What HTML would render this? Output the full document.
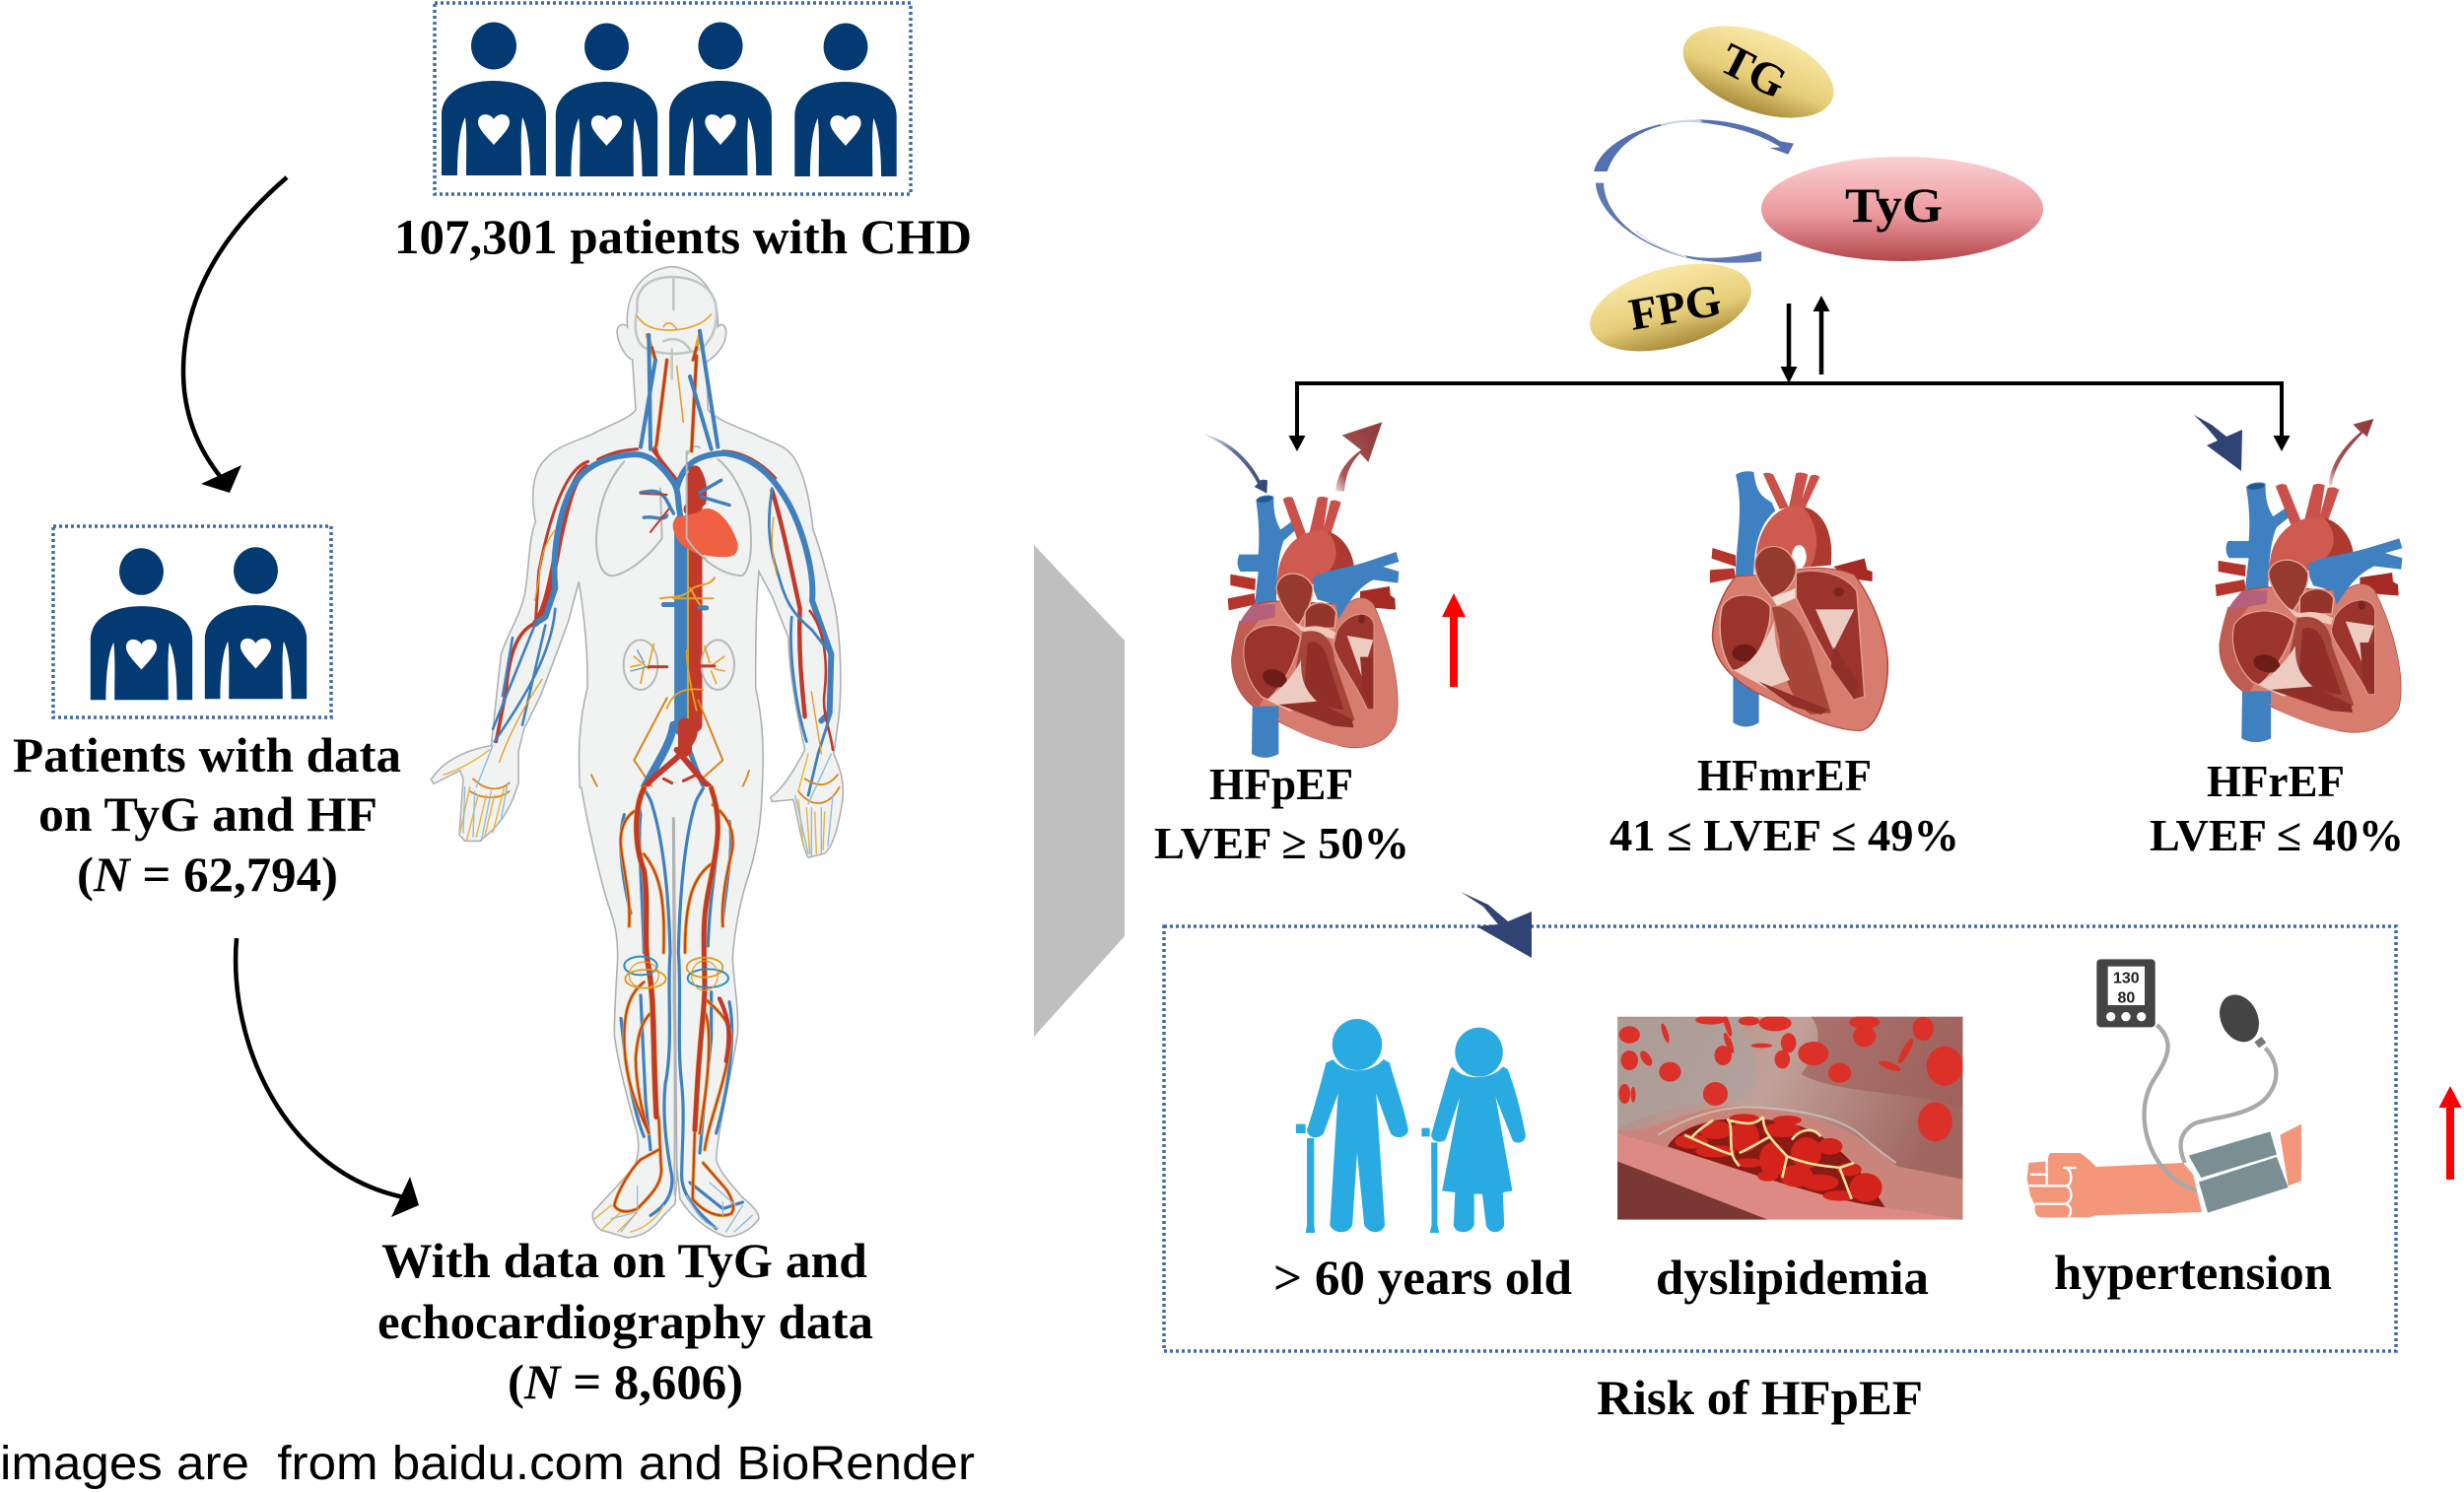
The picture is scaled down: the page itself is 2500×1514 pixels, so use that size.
<!DOCTYPE html>
<html lang="en"><head><meta charset="utf-8"><title>TyG and HF diagram</title>
<style>
html,body{margin:0;padding:0;background:#fff}
svg{display:block}
.t{font-family:"Liberation Serif",serif;font-weight:bold;fill:#000}
.s{font-family:"Liberation Sans",sans-serif;fill:#000;white-space:pre}
.v,.v path,.v ellipse{fill:none;vector-effect:non-scaling-stroke;stroke-linecap:round;stroke-linejoin:round}
.ns{vector-effect:non-scaling-stroke}
</style></head><body>
<svg xmlns="http://www.w3.org/2000/svg" width="2500" height="1514" viewBox="0 0 2500 1514">
<defs>
<linearGradient id="gold" x1="0" y1="0" x2="0" y2="1"><stop offset="0" stop-color="#f9e8a6"/><stop offset=".6" stop-color="#e6cd78"/><stop offset="1" stop-color="#a98c3a"/></linearGradient>
<linearGradient id="pink" x1="0" y1="0" x2="0" y2="1"><stop offset="0" stop-color="#fbd0d2"/><stop offset=".55" stop-color="#ec9a9e"/><stop offset="1" stop-color="#b3474c"/></linearGradient>
<linearGradient id="fadeN" x1="0" y1="0" x2="1" y2="1"><stop offset="0" stop-color="#e8ebf2"/><stop offset=".4" stop-color="#5d6f9a"/><stop offset="1" stop-color="#2f4374"/></linearGradient>
<linearGradient id="fadeR" x1="0" y1="1" x2="1" y2="0"><stop offset="0" stop-color="#f1dede"/><stop offset=".2" stop-color="#a85656"/><stop offset="1" stop-color="#8f3838"/></linearGradient>
<linearGradient id="picbg" x1="0" y1="0" x2="1" y2=".3"><stop offset="0" stop-color="#b08a82"/><stop offset=".5" stop-color="#c0a098"/><stop offset="1" stop-color="#a06660"/></linearGradient>
<clipPath id="picclip"><rect x="745" y="245" width="723" height="618"/></clipPath>

<g id="person">
<ellipse cx="0" cy="47.5" rx="23" ry="24" fill="#033a72"/>
<path d="M-53,179V118C-53,95-30,83 0,83C30,83 53,95 53,118V179H37C37,150 34,130 29,120C27,135 28,155 28,179H-28C-28,155-27,135-29,120C-34,130-37,150-37,179Z" fill="#033a72"/>
<path d="M0,148C-6,141-16,132-16,125C-16,115-4,115 0,122C4,115 16,115 16,125C16,132 6,141 0,148Z" fill="#fff"/>
</g>

<g id="heartA">
<path d="M283,322C295,305 330,305 337,312C335,360 345,390 358,412L395,385L408,410L368,445C350,490 345,560 345,645L280,635L290,540H235Q220,515 232,488H290C295,430 290,370 283,322Z" fill="#3f80c0"/>
<ellipse cx="310" cy="320" rx="24" ry="9" fill="#1f5a94" transform="rotate(-10 310 320)"/>
<path d="M205,548L282,562L280,597L205,582Z M197,622L278,606L282,640L200,658Z" fill="#b5352c"/>
<path d="M365,320Q380,308 395,315L437,430L410,445Z M470,315Q485,308 502,316L487,425L445,425Z M510,325Q525,318 542,330L510,428L485,425Z" fill="#c9514a"/>
<path d="M352,530C370,450 430,410 490,415C550,425 585,490 582,545L450,580L340,610Z" fill="#cf5a50"/>
<path d="M500,417C550,430 585,490 582,545L480,560C530,530 545,470 500,417Z" fill="#ac3a30"/>
<path d="M600,600L690,585L692,612L706,622L708,656L640,650L600,635Z" fill="#a52a24"/>
<path d="M275,640C250,670 220,720 210,800C205,870 240,930 290,960C340,990 420,1040 540,1070C600,1085 680,1070 708,1000C728,900 690,750 640,640C620,615 590,615 560,640L340,630Z" fill="#d77d70" stroke="#b5483e" stroke-width="4"/>
<path d="M272,950H352V1095Q310,1118 270,1095Z" fill="#3f80c0"/>
<path d="M345,990C420,1040 500,1065 540,1070C600,1085 680,1070 708,1000C728,900 690,750 640,640C620,615 590,615 560,640L600,960Z" fill="#d77d70"/>
<path d="M232,690C222,730 208,770 210,820C210,870 235,925 290,955L305,930C255,880 235,810 250,745L290,690Z" fill="#bf5d54"/>
<path d="M275,640C255,660 240,680 232,700L340,680L342,640Z" fill="#b5607a"/>
<path d="M250,745C280,690 380,690 418,740C405,810 370,880 320,930L300,920C260,880 235,810 250,745Z" fill="#9a342c" stroke="#e8a898" stroke-width="3"/>
<ellipse cx="340" cy="865" rx="38" ry="26" fill="#6e1c18" transform="rotate(20 340 865)"/>
<path d="M345,590C350,535 430,530 455,585C460,620 435,670 412,705C380,680 350,630 345,590Z" fill="#963a30" stroke="#e8a898" stroke-width="4"/>
<path d="M455,560C490,535 560,530 620,510L710,480L718,510L670,525L718,540L715,575L640,565C590,590 560,640 535,685L525,640L470,625L460,600Z" fill="#3f80c0"/>
<path d="M432,665C450,625 510,625 527,665L522,712L432,712Z" fill="#94352b" stroke="#e8a898" stroke-width="4"/>
<path d="M395,690L430,710C470,700 500,710 525,725L520,745L420,720Z" fill="#efc8b8"/>
<path d="M425,725C490,705 520,760 522,810L583,990C560,1020 480,1000 420,965L405,830Z" fill="#a6463b"/>
<path d="M440,760C470,740 500,780 505,820L550,960C510,960 470,940 430,900Z" fill="#8f2f28"/>
<path d="M530,720C560,665 630,650 642,700L642,960L622,960C590,880 520,800 520,760Z" fill="#9a342c" stroke="#e39a8d" stroke-width="3"/>
<ellipse cx="605" cy="685" rx="10" ry="14" fill="#7a2420"/>
<path d="M315,930C360,900 400,850 420,810C420,870 430,900 478,945L385,965Z" fill="#eccbc0"/>
<path d="M352,945L520,1010L580,1015L575,990L470,935Z" fill="#8f2f28"/>
<path d="M560,735L640,748L605,860Z" fill="#eccbc0"/>
<path d="M600,800L640,800L640,960L610,920Z" fill="#8f2f28"/>
</g>
</defs>

<rect width="2500" height="1514" fill="#fff"/>

<!-- top box -->
<rect x="441" y="3" width="483" height="194" fill="none" stroke="#3f6aa8" stroke-width="3.5" stroke-dasharray="3 3"/>
<use href="#person" x="501" y="-1"/>
<use href="#person" transform="translate(615.5,0) scale(.975,1)"/>
<use href="#person" transform="translate(731,-1) scale(.98,1)"/>
<use href="#person" transform="translate(858,0) scale(.975,1)"/>
<text class="t" x="400" y="257" font-size="50" textLength="586" lengthAdjust="spacingAndGlyphs">107,301 patients with CHD</text>

<!-- second box -->
<rect x="54" y="534" width="282" height="194" fill="none" stroke="#3f6aa8" stroke-width="3.5" stroke-dasharray="3 3"/>
<use href="#person" transform="translate(143.5,533) scale(.975,.99)"/>
<use href="#person" transform="translate(259.5,532) scale(.975,.99)"/>
<text class="t" x="13" y="783" font-size="50" textLength="394" lengthAdjust="spacingAndGlyphs">Patients with data</text>
<text class="t" x="39" y="843" font-size="50" textLength="344" lengthAdjust="spacingAndGlyphs">on TyG and HF</text>
<text class="t" x="78" y="904" font-size="50" textLength="265" lengthAdjust="spacingAndGlyphs">(<tspan font-style="italic">N</tspan> = 62,794)</text>

<!-- curved arrows -->
<path d="M291,180C227,235 186,300 186,377C186,420 201,455 223,483" fill="none" stroke="#000" stroke-width="4.5"/>
<path d="M245,472L204,491L233,500Z" fill="#000"/>
<path d="M240,952C231,1060 290,1190 410,1215" fill="none" stroke="#000" stroke-width="4.5"/>
<path d="M416,1194L425,1223L397,1235Z" fill="#000"/>

<!-- body upper -->
<g transform="translate(420,260) scale(.33333,.42088)">
<path class="ns" d="M505,1283C500,1200 500,1130 528,1040C530,950 515,850 502,785L470,880L440,945L385,1060L335,1140L318,1195L318,1270C300,1320 270,1370 200,1410L155,1410L138,1395L150,1260L140,1240L60,1272L52,1262C90,1215 160,1190 235,1180L265,960C290,900 330,860 340,800C350,750 350,680 370,640C355,580 360,520 400,490C430,460 480,450 540,430C600,405 660,390 675,370L665,250C640,240 620,210 618,180C620,165 640,160 650,170C640,90 700,30 785,25C870,30 930,90 925,170C935,160 950,165 950,185C950,215 920,240 890,255L895,370C920,395 980,410 1040,430C1080,450 1130,450 1160,490C1190,530 1205,590 1215,660C1240,710 1260,780 1280,840C1300,920 1305,1050 1290,1130L1278,1200C1300,1240 1310,1270 1305,1310C1295,1360 1280,1420 1250,1440L1200,1450C1180,1420 1170,1360 1155,1310L1090,1315L1085,1305C1130,1280 1170,1220 1190,1190C1170,1120 1140,1000 1140,920L1090,820L1050,760C1040,850 1040,960 1040,1040C1065,1130 1065,1200 1060,1283" fill="#f1f2f2" stroke="#aeb1b3" stroke-width="1.6"/>
<g class="v">
<path d="M680,130C670,70 730,50 785,50C860,50 920,80 920,130C925,170 905,200 880,220C830,240 750,240 700,220C670,200 670,160 680,130M790,55V128M760,205C790,195 820,200 840,225M785,225V295" stroke="#c3c6c8" stroke-width="2.6"/>
<path d="M640,495C590,540 560,600 555,680C555,740 575,775 610,770C660,760 720,720 755,680L750,560M830,470V680C860,720 930,770 1000,770C1030,750 1030,680 1020,620C1000,560 960,510 925,490M830,480Q850,450 870,462" stroke="#b6b9bb" stroke-width="2"/>
<path d="M738,455L770,250M845,470L860,240M710,190L735,250M870,190L850,250M735,460C745,500 770,520 790,530" stroke="#e8a020" stroke-width="4"/>
<path d="M738,455L770,250M845,470L860,240M735,460C745,500 770,520 790,530M725,220L735,250M860,220L850,250" stroke="#c0392b" stroke-width="2.6"/>
<path d="M680,145C700,170 740,180 790,178C840,175 880,165 905,140M760,170C770,155 790,160 800,178M800,265L820,400" stroke="#e8a020" stroke-width="1.6"/>
<path d="M855,530V1130" stroke="#c0392b" stroke-width="15"/>
<path d="M812,640V1140" stroke="#3f80bd" stroke-width="13"/>
<path d="M835,700V1130" stroke="#e8a020" stroke-width="1.2"/>
<path d="M530,495C470,510 420,600 380,760L370,885M560,490C610,470 640,468 680,465M940,470C1000,470 1060,500 1100,535" stroke="#c0392b" stroke-width="3"/>
<path d="M525,510C490,530 470,580 440,690C420,780 400,860 370,885" stroke="#c0392b" stroke-width="7"/>
<path d="M770,520L800,540M720,460L800,540" stroke="#c0392b" stroke-width="3.5"/>
<path d="M800,560C820,500 860,480 940,475C1020,480 1080,520 1120,570C1180,640 1220,760 1212,830L1270,960L1265,1100L1240,1120" stroke="#3f80bd" stroke-width="6"/>
<path d="M815,640C800,600 810,570 790,545C760,510 720,475 670,478C600,480 520,500 480,560C440,620 420,720 430,800L400,870L370,885" stroke="#3f80bd" stroke-width="6"/>
<path d="M855,520C870,540 875,560 870,590L840,610" stroke="#c0392b" stroke-width="13"/>
<path d="M690,460L735,250M720,465L715,190M905,465L840,290M925,460L870,180" stroke="#3f80bd" stroke-width="4"/>
<path d="M690,570C720,565 750,560 770,590L790,620M700,630C730,625 760,640 770,625M870,570L935,540M875,580L960,600" stroke="#3f80bd" stroke-width="3.4"/>
<path d="M690,572L770,575M720,665L775,610" stroke="#c0392b" stroke-width="2"/>
<path d="M1090,565C1120,640 1150,760 1175,850C1170,950 1180,1030 1190,1110" stroke="#c0392b" stroke-width="4.4"/>
<path d="M1205,855C1250,900 1260,980 1250,1050C1240,1100 1270,1150 1275,1190" stroke="#c0392b" stroke-width="2.6"/>
<path d="M1090,560C1080,620 1070,680 1110,770C1130,830 1150,860 1210,900L1270,960M1150,870C1140,950 1160,1080 1195,1170M1270,1100L1230,1200L1200,1300" stroke="#3f80bd" stroke-width="2.8"/>
<path d="M370,885C320,900 290,950 280,1050L250,1170" stroke="#c0392b" stroke-width="3.6"/>
<path d="M370,885L240,1140M430,850C420,950 350,1050 245,1170M300,920L270,1060M400,890L330,1130" stroke="#3f80bd" stroke-width="2.6"/>
<path d="M430,660C400,690 385,720 380,780L368,830M1095,630C1085,680 1090,720 1105,770M390,1020C340,1080 290,1150 260,1220M1210,1050L1240,1200" stroke="#e8a020" stroke-width="1.4"/>
<path d="M180,1260C220,1290 260,1290 290,1270M170,1290C210,1310 260,1310 290,1290M1170,1290C1210,1330 1260,1330 1295,1280M1190,1260C1230,1280 1260,1280 1290,1250" stroke="#d8861c" stroke-width="1.8"/>
<path d="M90,1250C130,1240 180,1220 230,1190M170,1280L140,1390M195,1300L160,1410M220,1300L190,1400M245,1300L215,1400M275,1280L240,1390" stroke="#e8b642" stroke-width="1.5"/>
<path d="M155,1280L150,1390M185,1290L180,1400M235,1290L205,1410M285,1270L265,1360M240,1180L190,1280" stroke="#93bcd8" stroke-width="1.4"/>
<path d="M1170,1310L1185,1420M1195,1330L1205,1440M1220,1340L1225,1440M1250,1340L1245,1430M1200,1200L1170,1290" stroke="#e8b642" stroke-width="1.5"/>
<path d="M1160,1300L1200,1440M1210,1330V1445M1240,1330V1440M1275,1300L1260,1420M1270,1200L1200,1320" stroke="#93bcd8" stroke-width="1.4"/>
<ellipse cx="690" cy="985" rx="52" ry="60" stroke="#b6b9bb" stroke-width="2"/>
<ellipse cx="925" cy="985" rx="50" ry="60" stroke="#b6b9bb" stroke-width="2"/>
<path d="M715,995L670,965M715,985L730,935M700,990L690,1030M690,985L660,990" stroke="#e8a020" stroke-width="1.6"/>
<path d="M900,990L945,965M900,980L885,940M905,1000L920,1030M915,995L945,1000" stroke="#e8a020" stroke-width="1.6"/>
<path d="M700,980L680,950M710,990L660,1000" stroke="#5d9bcb" stroke-width="1.4"/>
<path d="M770,990H715" stroke="#c0392b" stroke-width="3"/><path d="M850,988H915" stroke="#c0392b" stroke-width="3"/>
<path d="M750,825C790,820 820,825 850,800C870,790 900,795 915,775M790,825H910M840,800C850,810 860,830 870,840" stroke="#e8a020" stroke-width="2"/>
<path d="M760,840H800M870,848H890" stroke="#3f80bd" stroke-width="5"/>
<path d="M770,1090C790,1050 820,1040 880,1045M830,950C830,1000 850,1060 860,1095" stroke="#e8a020" stroke-width="1.8"/>
<path d="M770,1065L670,1215L725,1280M865,1070L940,1215L870,1265" stroke="#d8861c" stroke-width="2"/>
<path d="M700,1283L670,1330C620,1350 580,1320 540,1250M905,1283C940,1320 990,1320 1020,1240" stroke="#d8861c" stroke-width="1.8"/>
<path d="M790,1130C780,1180 740,1220 700,1283" stroke="#3f80bd" stroke-width="8"/>
<path d="M825,1150C835,1190 860,1240 885,1283" stroke="#3f80bd" stroke-width="5"/>
<path d="M855,1130C860,1170 830,1190 740,1250C720,1265 705,1275 700,1283" stroke="#c0392b" stroke-width="6"/>
<path d="M825,1130V1190" stroke="#c0392b" stroke-width="14"/>
<path d="M800,1190L880,1265L905,1283" stroke="#c0392b" stroke-width="6"/>
<path d="M760,1260L785,1270M820,1265L860,1250" stroke="#c0392b" stroke-width="3"/>
</g>
<path d="M790,640C800,620 840,630 880,610C910,600 960,630 985,690C990,715 975,725 950,725C900,725 830,720 800,680C790,665 785,650 790,640Z" fill="#ef6142"/>
<path class="ns" d="M830,500V680C850,705 870,720 890,730" fill="none" stroke="#b6b9bb" stroke-width="2"/>
</g>

<!-- body lower -->
<g transform="translate(420,800) scale(.33333)">
<path class="ns" d="M505,-5L510,0C525,90 560,250 590,350C615,420 620,450 620,520C615,600 610,680 610,750C620,830 650,950 680,1050C685,1090 685,1120 670,1150C640,1190 590,1240 545,1290C540,1310 550,1330 570,1345L650,1368C680,1365 720,1355 760,1300L795,1265L800,1180L790,640L790,540L788,90H792L796,540L796,650L800,1150L810,1250C840,1300 890,1345 950,1365C990,1365 1030,1340 1050,1310C1050,1290 1030,1270 1000,1245C970,1210 930,1170 920,1130C925,1040 960,900 985,750C990,680 975,600 970,520C975,420 1000,320 1020,260C1045,180 1058,90 1060,-5" fill="#f1f2f2" stroke="#aeb1b3" stroke-width="1.6"/>
<path d="M793,100V1240" fill="none" stroke="#b2b5b7" class="ns" stroke-width="1.5"/>
<g class="v">
<path d="M640,80C620,150 630,260 660,380M700,0C710,20 720,30 725,50C755,150 775,300 780,500C770,620 790,780 765,900C755,1000 770,1100 785,1180C790,1230 770,1270 720,1300M700,0C680,40 685,60 690,80C680,150 695,300 700,500M690,630L695,740L705,950L720,1100M630,700C640,800 660,960 700,1060" stroke="#3f80bd" stroke-width="3.2"/>
<path d="M880,0C870,20 860,30 855,50C825,150 810,300 805,500C815,620 800,780 815,900C825,1000 815,1100 815,1180C815,1230 850,1280 920,1340M905,0C915,30 930,60 925,90C935,170 900,300 895,480M905,620L905,760L880,1000L870,1110M960,650C980,750 960,900 920,1050M960,100C975,170 950,300 940,400M840,1200L940,1280L1000,1260" stroke="#3f80bd" stroke-width="3.2"/>
<g id="legRed">
<path d="M745,1000L752,1150C760,1200 720,1240 680,1280Q630,1300 610,1270C615,1240 650,1170 690,1130L745,1100"/>
<path d="M855,1040L848,1250C880,1290 930,1310 965,1295C980,1280 970,1250 950,1220L880,1140"/>
<path d="M700,200C750,260 765,340 760,500"/>
<path d="M905,230C850,270 825,340 825,500"/>
<path d="M700,590C660,620 640,670 640,760C640,900 690,990 715,1050"/>
<path d="M725,680C690,710 680,760 675,820C675,900 695,990 715,1050"/>
<path d="M885,640C920,670 965,710 965,760C950,900 900,1000 885,1100"/>
<path d="M885,680C905,720 900,850 880,980L870,1050"/>
<path d="M670,70C640,90 625,130 630,180C640,260 660,330 655,420"/>
<path d="M910,50C950,80 975,120 970,180C950,270 935,340 940,420"/>
</g>
<use href="#legRed" stroke="#e8a020" stroke-width="3.6"/>
<use href="#legRed" stroke="#c0392b" stroke-width="1.8"/>
<path d="M700,0C670,60 670,170 700,250C715,350 700,450 710,520C735,650 725,750 738,1000" stroke="#e8a020" stroke-width="6"/>
<path d="M700,0C670,60 670,170 700,250C715,350 700,450 710,520C735,650 725,750 738,1000" stroke="#c0392b" stroke-width="5"/>
<path d="M905,0C940,100 925,170 895,320C875,420 885,500 885,600C885,680 870,750 860,950L855,1040" stroke="#e8a020" stroke-width="5.6"/>
<path d="M905,0C940,100 925,170 895,320C875,420 885,500 885,600C885,680 870,750 860,950L855,1040" stroke="#c0392b" stroke-width="4.6"/>
<path d="M930,640C960,700 965,750 950,830" stroke="#c0392b" stroke-width="4.2"/>
<ellipse cx="690" cy="540" rx="50" ry="28" stroke="#2b8fc4" stroke-width="2"/>
<ellipse cx="705" cy="580" rx="62" ry="28" stroke="#e09a1c" stroke-width="1.8"/>
<ellipse cx="700" cy="568" rx="45" ry="40" stroke="#e09a1c" stroke-width="1.2"/>
<ellipse cx="885" cy="545" rx="55" ry="30" stroke="#e09a1c" stroke-width="1.8"/>
<ellipse cx="895" cy="578" rx="62" ry="28" stroke="#2b8fc4" stroke-width="2"/>
<ellipse cx="885" cy="570" rx="40" ry="45" stroke="#e09a1c" stroke-width="1.2"/>
<path d="M550,1310L600,1270M575,1340L630,1290M620,1350L680,1290M660,1350C700,1340 740,1310 760,1270" stroke="#e8b642" stroke-width="1.5"/>
<path d="M600,1310L680,1290M680,1210L680,1280M630,1350L670,1300" stroke="#93bcd8" stroke-width="1.3"/>
<path d="M830,1240C860,1300 890,1330 925,1340M1000,1270L950,1350M1030,1300L975,1350M940,1260V1300M900,1200L980,1270" stroke="#93bcd8" stroke-width="1.4"/>
</g>
</g>

<text class="t" x="387" y="1296" font-size="50" textLength="493" lengthAdjust="spacingAndGlyphs">With data on TyG and</text>
<text class="t" x="383" y="1358" font-size="50" textLength="503" lengthAdjust="spacingAndGlyphs">echocardiography data</text>
<text class="t" x="515" y="1419" font-size="50" textLength="239" lengthAdjust="spacingAndGlyphs">(<tspan font-style="italic">N</tspan> = 8,606)</text>
<text class="s" x="0" y="1501" font-size="48" textLength="989" lengthAdjust="spacingAndGlyphs">images are  from baidu.com and BioRender</text>

<!-- big gray shape -->
<path d="M1049,553L1141,650V950L1049,1052Z" fill="#bfbfbf"/>

<!-- TyG section -->
<ellipse cx="1784" cy="73" rx="80" ry="40" fill="url(#gold)" transform="rotate(20 1784 73)"/>
<ellipse cx="1695" cy="312" rx="84" ry="40" fill="url(#gold)" transform="rotate(-15 1695 312)"/>
<ellipse cx="1930" cy="212" rx="143" ry="53" fill="url(#pink)"/>
<text class="t" font-size="46" transform="translate(1742,70) rotate(27)" textLength="68" lengthAdjust="spacingAndGlyphs">TG</text>
<text class="t" font-size="46" transform="translate(1656,335) rotate(-10)" textLength="94" lengthAdjust="spacingAndGlyphs">FPG</text>
<text class="t" x="1872" y="225" font-size="50" textLength="99" lengthAdjust="spacingAndGlyphs">TyG</text>
<g transform="translate(1560,0) scale(.35714,.33333)">
<path d="M160,522C180,430 320,365 460,364C560,366 640,395 690,430L728,437L712,470L660,450L690,448C620,400 520,375 430,370C330,375 230,420 198,522Z" fill="#5470b0"/>
<path d="M350,378C380,368 420,364 460,364L470,372C420,370 380,374 350,382Z" fill="#cdd5e6"/>
<path d="M165,557H188C190,650 280,740 400,772C470,795 560,785 636,765V795C560,805 470,800 400,778C280,740 170,650 165,557Z" fill="#5f78b4"/>
<path d="M280,700C310,730 360,760 420,778L425,785C360,765 310,735 280,706Z" fill="#dfe3ee"/>
</g>
<path d="M1815,308V375" stroke="#000" stroke-width="4.5"/><path d="M1806.5,372H1823.5L1815,389Z" fill="#000"/>
<path d="M1848,312V380" stroke="#000" stroke-width="4.5"/><path d="M1839.5,316H1856.5L1848,300Z" fill="#000"/>
<path d="M1316,444V389H2315V444" fill="none" stroke="#000" stroke-width="4"/>
<path d="M1307.5,442H1324.5L1316,458Z M2306.5,442H2323.5L2315,458Z" fill="#000"/>

<!-- hearts -->
<g transform="translate(1180,400) scale(.33333)"><use href="#heartA"/></g>
<g transform="translate(2176,388) scale(.364,.33)"><use href="#heartA"/></g>

<!-- heart 2 -->
<g transform="translate(1680,450) scale(.523,.33333)">
<path d="M155,95Q170,80 190,87C195,150 205,160 225,180L232,205C205,240 190,300 190,405H155C155,300 172,200 155,95Z" fill="#3f80c0"/>
<path d="M150,700H200V850Q175,875 150,850Z" fill="#3f80c0"/>
<path d="M110,318L155,340V375L108,350Z M105,385L152,380L155,410L105,425Z" fill="#b5352c"/>
<path d="M208,92Q218,85 228,95L258,195L240,200Z M272,90Q285,85 295,95L280,195L258,195Z M300,98Q310,92 318,102L290,195L278,195Z" fill="#c9514a"/>
<path d="M195,340C200,260 230,190 275,190C325,195 345,270 340,370L270,380L200,400Z" fill="#cf5a50"/>
<path d="M285,192C330,210 345,280 340,370L300,375C320,320 315,240 285,192Z" fill="#ac3a30"/>
<ellipse cx="278" cy="345" rx="14" ry="36" fill="#fff"/>
<path d="M345,375L405,350L410,385L420,390V420L370,410Z" fill="#a52a24"/>
<path d="M155,405C130,450 110,530 110,590C115,680 165,740 225,780C260,810 330,870 395,875C430,870 450,760 450,680C450,570 410,450 385,400C340,370 290,380 270,385L200,400Z" fill="#d77d70" stroke="#b5483e" stroke-width="3"/>
<path d="M128,500C140,450 200,450 222,495C225,560 205,640 170,690L148,690C125,640 120,560 128,500Z" fill="#9a342c" stroke="#e8a898" stroke-width="3"/>
<ellipse cx="172" cy="638" rx="24" ry="26" fill="#6e1c18"/>
<path d="M192,360C200,300 250,300 265,350C280,380 270,420 250,450L225,470C210,440 190,410 192,360Z" fill="#963a30" stroke="#e8a898" stroke-width="3"/>
<path d="M225,470C235,460 265,450 275,435L272,470L235,495Z" fill="#f3dcd4"/>
<path d="M225,500C260,480 290,560 305,640L340,820L300,825C260,780 240,680 240,600Z" fill="#a6463b"/>
<path d="M272,395C310,375 370,400 390,450L405,770L385,780C340,680 300,560 272,470Z" fill="#9a342c" stroke="#e39a8d" stroke-width="3"/>
<ellipse cx="355" cy="452" rx="10" ry="14" fill="#7a2420"/>
<path d="M310,505L385,505L345,630Z" fill="#eccbc0"/>
<path d="M150,690C180,680 210,620 230,540C230,620 240,660 260,720L215,745Z" fill="#eccbc0"/>
<path d="M200,725L335,810L320,825L265,800Z" fill="#8f2f28"/>
<path d="M345,620L395,730L385,780L340,680Z" fill="#8f2f28"/>
</g>

<!-- heart 1 arrows -->
<g transform="translate(1180,400) scale(.33333)">
<path d="M118,120C190,135 255,185 295,262L305,260L318,262L316,302L278,282L288,272C250,200 190,150 118,120Z" fill="url(#fadeN)"/>
<path d="M525,295C530,240 560,200 603,170L545,125L667,85L625,207L600,180C570,210 555,250 552,295Z" fill="url(#fadeR)"/>
</g>
<path d="M1475,625V697" stroke="#f00" stroke-width="8"/><path d="M1463,626H1487L1475,602Z" fill="#f00"/>

<!-- heart 3 arrows -->
<path d="M2226,421L2244,431L2259,443L2275,436L2274,478L2239,452L2250,447L2240,435Z" fill="#2f4374"/>
<g transform="translate(2200,400) scale(.33333)">
<path d="M488,278C490,220 530,160 585,115L562,92L625,75L605,130L592,118C545,165 505,220 498,278Z" fill="url(#fadeR)"/>
</g>

<text class="t" x="1227" y="811" font-size="46" textLength="146" lengthAdjust="spacingAndGlyphs">HFpEF</text>
<text class="t" x="1171" y="871" font-size="46" textLength="259" lengthAdjust="spacingAndGlyphs">LVEF ≥ 50%</text>
<text class="t" x="1722" y="802" font-size="46" textLength="177" lengthAdjust="spacingAndGlyphs">HFmrEF</text>
<text class="t" x="1633" y="863" font-size="46" textLength="355" lengthAdjust="spacingAndGlyphs">41 ≤ LVEF ≤ 49%</text>
<text class="t" x="2239" y="808" font-size="46" textLength="140" lengthAdjust="spacingAndGlyphs">HFrEF</text>
<text class="t" x="2181" y="863" font-size="46" textLength="258" lengthAdjust="spacingAndGlyphs">LVEF ≤ 40%</text>

<!-- risk box -->
<rect x="1181" y="940" width="1250" height="431" fill="none" stroke="#3f6aa8" stroke-width="3.5" stroke-dasharray="3 3"/>
<path d="M1482,905L1510,918L1530,935L1554,925V972L1498,940L1520,938L1505,920Z" fill="#2f4374"/>

<!-- couple -->
<g transform="translate(1280,950) scale(.4847,.33333)" fill="#29abe2">
<ellipse cx="200" cy="330" rx="52" ry="78"/>
<ellipse cx="455" cy="353" rx="50" ry="75"/>
<path d="M150,375C170,420 230,420 255,375L268,385C280,450 300,530 307,590C305,615 280,620 270,600L240,480L258,880C250,910 225,905 215,880L200,660L190,880C180,910 150,905 143,880L160,480L130,600C115,625 95,610 95,590C115,500 125,440 135,385Z"/>
<path d="M72,572H92V600H72Z M95,615H110V880L112,903H92L95,880Z"/>
<path d="M400,397C420,440 480,440 505,397L515,405C530,460 545,540 553,610C550,630 530,635 525,620L490,490L525,775L505,780L508,880C500,910 475,905 470,880L462,785H445V880C435,910 405,905 402,880L405,780L378,775L415,490L385,620C370,635 355,620 355,605C370,530 385,450 395,405Z"/>
<path d="M335,584H352V610H335Z M355,628H368V880L372,903H352L356,880Z"/>
</g>

<!-- dyslipidemia picture -->
<g transform="translate(1280,950) scale(.4847,.33333)">
<g clip-path="url(#picclip)">
<rect x="745" y="245" width="723" height="618" fill="url(#picbg)"/>
<path d="M745,250H1000C1020,350 1080,420 1000,500C900,500 800,540 745,590Z" fill="#ada39e" opacity=".7"/>
<path d="M1150,245H1468V520C1350,470 1200,480 1130,420C1160,360 1180,300 1150,245Z" fill="#a0605b" opacity=".7"/>
<path d="M745,590C820,610 900,500 1020,520C1150,530 1260,600 1330,700L1468,740V863H745Z" fill="#c9857c"/>
<path d="M745,685L1060,863H745Z" fill="#7a3733"/>
<path d="M745,600L860,650L1300,825L1468,863H1060L745,685Z" fill="#dd8a84"/>
<path d="M850,640C880,560 1000,530 1120,575C1200,610 1260,720 1305,825C1200,810 1040,730 850,640Z" fill="#8a1a14"/>
<g fill="#d3231b">
<ellipse cx="900" cy="625" rx="35" ry="22"/><ellipse cx="950" cy="590" rx="34" ry="28"/><ellipse cx="1010" cy="610" rx="32" ry="48"/>
<ellipse cx="1090" cy="590" rx="40" ry="22"/><ellipse cx="1070" cy="680" rx="28" ry="52"/><ellipse cx="1140" cy="660" rx="32" ry="48"/>
<ellipse cx="1190" cy="640" rx="26" ry="25"/><ellipse cx="1170" cy="750" rx="38" ry="25"/><ellipse cx="1265" cy="765" rx="34" ry="44"/>
<ellipse cx="950" cy="655" rx="42" ry="18"/><ellipse cx="1020" cy="690" rx="30" ry="14"/><ellipse cx="1120" cy="730" rx="35" ry="34"/>
<ellipse cx="1210" cy="790" rx="35" ry="16"/><ellipse cx="1230" cy="710" rx="26" ry="20"/><ellipse cx="1010" cy="555" rx="32" ry="14"/>
<ellipse cx="1060" cy="730" rx="22" ry="16"/><ellipse cx="1100" cy="560" rx="30" ry="14"/>
</g>
<path d="M885,605C910,620 950,650 985,665M945,560C925,580 905,600 900,615M975,555C990,580 975,640 990,680L1000,700M975,560C1010,570 1030,580 1050,550M1050,550C1050,590 1060,610 1100,670L1090,735M1000,660C1030,640 1050,620 1065,610M1100,670C1150,700 1190,700 1210,705L1235,800M1210,705L1240,690M1110,620C1130,580 1160,585 1170,610" fill="none" stroke="#f4e39a" stroke-width="2.6" class="ns"/>
<g fill="#dc3128">
<ellipse cx="855" cy="413" rx="23" ry="30"/><ellipse cx="950" cy="480" rx="26" ry="36"/><ellipse cx="1410" cy="565" rx="36" ry="60"/>
<ellipse cx="1210" cy="416" rx="24" ry="30"/><ellipse cx="1430" cy="395" rx="38" ry="60"/><ellipse cx="1155" cy="357" rx="32" ry="36"/>
<ellipse cx="966" cy="363" rx="18" ry="30"/><ellipse cx="1090" cy="375" rx="16" ry="28"/><ellipse cx="1262" cy="305" rx="24" ry="32"/>
<ellipse cx="1262" cy="262" rx="32" ry="20"/><ellipse cx="1385" cy="282" rx="22" ry="36"/><ellipse cx="770" cy="300" rx="22" ry="26"/>
<ellipse cx="770" cy="378" rx="18" ry="30"/><ellipse cx="1075" cy="265" rx="34" ry="24"/><ellipse cx="1020" cy="258" rx="22" ry="14"/>
<ellipse cx="940" cy="255" rx="32" ry="14"/><ellipse cx="1103" cy="325" rx="16" ry="30"/><ellipse cx="1047" cy="333" rx="22" ry="7"/>
<ellipse cx="1315" cy="395" rx="26" ry="10" transform="rotate(30 1315 395)"/><ellipse cx="1348" cy="350" rx="8" ry="40" transform="rotate(20 1348 350)"/>
<ellipse cx="975" cy="270" rx="6" ry="36" transform="rotate(-12 975 270)"/><ellipse cx="978" cy="325" rx="7" ry="32" transform="rotate(-15 978 325)"/>
<ellipse cx="845" cy="295" rx="6" ry="30" transform="rotate(-12 845 295)"/><ellipse cx="805" cy="372" rx="10" ry="24" transform="rotate(-20 805 372)"/>
<ellipse cx="760" cy="480" rx="12" ry="30"/><ellipse cx="778" cy="482" rx="5" ry="24"/>
</g>
<path d="M830,605C880,560 950,520 1020,520C1110,525 1200,545 1250,600C1280,640 1300,660 1328,690" fill="none" stroke="#cfc4bb" stroke-width="2" class="ns" opacity=".8"/>
</g>
</g>

<!-- hypertension -->
<g transform="translate(2020,950) scale(.33333)">
<rect x="322" y="70" width="178" height="207" rx="12" fill="#444"/>
<rect x="356" y="92" width="112" height="118" fill="#fff"/>
<text x="412" y="142" font-family="'Liberation Sans',sans-serif" font-weight="bold" font-size="48" text-anchor="middle" fill="#222">130</text>
<text x="412" y="202" font-family="'Liberation Sans',sans-serif" font-weight="bold" font-size="48" text-anchor="middle" fill="#222">80</text>
<circle cx="365" cy="245" r="14" fill="#fff"/><circle cx="411" cy="245" r="14" fill="#fff"/><circle cx="458" cy="245" r="14" fill="#fff"/>
<ellipse cx="756" cy="250" rx="56" ry="75" fill="#444" transform="rotate(-25 756 250)"/>
<path d="M802,322L824,306L838,324L816,340Z" fill="#777"/>
<path d="M880,605L945,572V745L905,760Z" fill="#f4967a"/>
<path d="M320,702L585,690L615,725L642,840L320,850L300,856H150Q130,850 135,820L120,790L110,740L115,690L170,685L180,660H270Q290,670 320,702Z" fill="#f4967a"/>
<path d="M505,270C560,320 540,370 500,430C440,520 470,640 520,700C550,740 590,762 625,775" fill="none" stroke="#a9a9a9" stroke-width="13"/>
<path d="M835,340C880,390 880,450 830,500C770,550 680,550 620,570C570,600 570,640 590,690" fill="none" stroke="#a9a9a9" stroke-width="13"/>
<path d="M602,668L850,595L870,665L640,735Z" fill="#7b8e94"/>
<path d="M633,748L870,672L905,765L660,842Z" fill="#7b8e94"/>
<path d="M170,670V760H230C250,760 250,700 220,705H260M115,760H230C250,770 250,810 225,815H135M165,815H225C250,820 245,850 235,855M170,725H120" fill="none" stroke="#fff" stroke-width="7"/>
</g>
<path d="M2486,1122V1197" stroke="#f00" stroke-width="8"/><path d="M2474.5,1124H2497.5L2486,1102Z" fill="#f00"/>

<text class="t" x="1292" y="1313" font-size="50" textLength="303" lengthAdjust="spacingAndGlyphs">&gt; 60 years old</text>
<text class="t" x="1680" y="1313" font-size="50" textLength="277" lengthAdjust="spacingAndGlyphs">dyslipidemia</text>
<text class="t" x="2084" y="1308" font-size="50" textLength="282" lengthAdjust="spacingAndGlyphs">hypertension</text>
<text class="t" x="1620" y="1435" font-size="50" textLength="331" lengthAdjust="spacingAndGlyphs">Risk of HFpEF</text>
</svg>
</body></html>
